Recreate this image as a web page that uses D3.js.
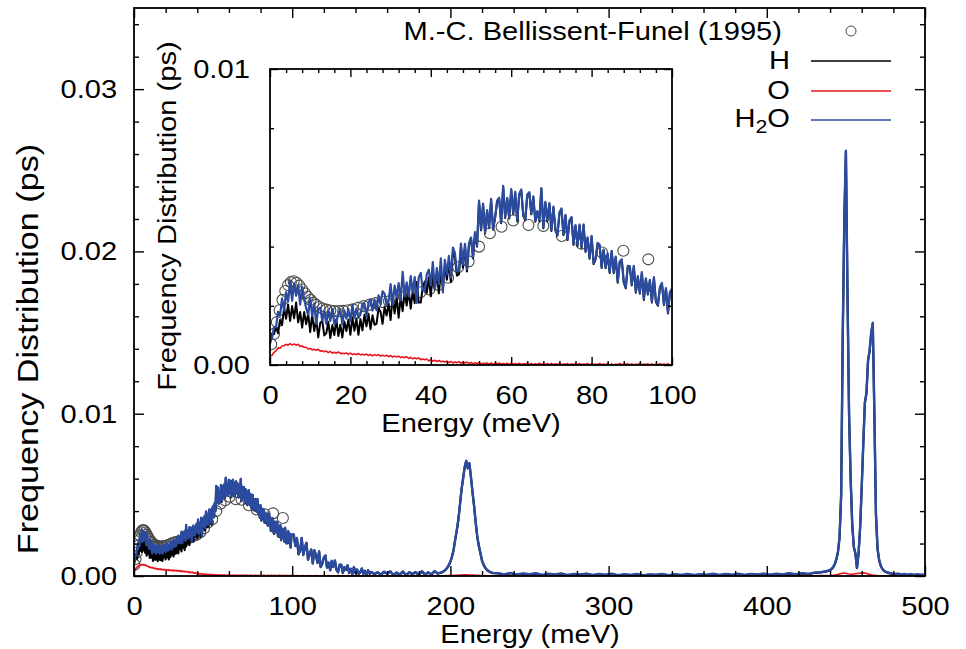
<!DOCTYPE html>
<html>
<head>
<meta charset="utf-8">
<script src="https://cdn.jsdelivr.net/npm/d3@7"></script>
<style>
  html, body { margin: 0; padding: 0; background: #fff; }
  svg { display: block; }
  text { font-family: "Liberation Sans", Arial, Helvetica, sans-serif; fill: #000; }
</style>
</head>
<body>
<svg id="chart" width="966" height="649"></svg>
<script>
// All frequency-distribution values below are in units of 1e-4 ps.
const UNIT = 1e-4;

// ---------- 0–100 meV, sampled every 0.5 meV (one row = 5 meV) ----------
const h2oLow = [
  9.2, 9.0, 12.8, 12.7, 18.0, 16.7, 22.5, 18.4, 24.6, 21.4,
  28.4, 21.7, 27.6, 23.4, 26.9, 20.4, 26.4, 22.3, 19.2, 16.9,
  22.6, 16.6, 20.8, 13.9, 18.9, 19.4, 14.9, 18.1, 13.9, 18.4,
  14.9, 18.9, 13.9, 14.4, 17.4, 18.9, 13.8, 18.4, 15.7, 18.9,
  14.8, 20.2, 15.8, 19.1, 15.9, 17.1, 20.8, 20.8, 16.3, 21.1,
  22.2, 18.4, 22.1, 18.5, 23.5, 20.5, 24.9, 24.1, 20.3, 21.5,
  27.3, 20.1, 26.8, 22.9, 27.7, 21.8, 31.5, 23.2, 27.9, 23.1,
  30.0, 24.4, 29.7, 21.0, 29.6, 31.1, 25.2, 25.1, 30.6, 32.2,
  26.9, 34.8, 25.8, 32.7, 27.3, 36.0, 24.5, 35.5, 30.6, 36.9,
  29.5, 39.7, 37.8, 31.6, 31.8, 41.0, 33.9, 40.9, 32.4, 41.2,
  43.1, 36.4, 44.9, 40.3, 55.5, 45.8, 54.5, 44.8, 52.3, 46.6,
  56.1, 46.0, 50.0, 55.5, 56.5, 48.2, 60.5, 50.0, 56.5, 49.8,
  59.4, 51.3, 58.5, 48.8, 57.8, 59.3, 50.7, 49.2, 57.6, 58.4,
  51.2, 57.0, 48.7, 52.0, 48.9, 59.8, 46.5, 55.1, 48.9, 54.7,
  45.6, 53.5, 45.8, 44.0, 51.5, 52.9, 44.2, 50.7, 42.5, 48.9,
  50.0, 40.9, 47.3, 40.5, 47.4, 39.9, 47.5, 38.5, 43.1, 36.2,
  43.6, 34.4, 36.0, 41.3, 40.6, 33.1, 39.0, 33.0, 37.6, 31.4,
  38.6, 31.3, 36.6, 28.1, 35.0, 35.7, 28.2, 26.2, 33.5, 33.4,
  27.2, 33.5, 24.7, 30.0, 24.4, 31.4, 22.3, 29.3, 24.1, 28.8,
  21.4, 29.7, 21.6, 20.3, 26.4, 27.7, 20.5, 26.0, 17.7, 24.8,
  25.7
];
const hLow = [
  7.0, 10.6, 10.4, 12.9, 10.7, 15.2, 13.5, 19.1, 15.6, 20.4,
  14.9, 19.9, 15.8, 21.1, 14.4, 17.9, 12.6, 17.9, 13.8, 17.4,
  11.1, 17.0, 11.5, 15.5, 9.3, 14.2, 15.0, 10.0, 10.7, 14.6,
  9.1, 13.5, 10.1, 15.5, 9.8, 13.6, 9.3, 14.7, 11.5, 15.3,
  10.2, 16.1, 11.6, 15.7, 10.2, 15.5, 11.7, 17.0, 13.1, 17.3,
  12.1, 16.8, 13.6, 13.9, 19.2, 18.0, 13.9, 19.6, 16.7, 20.8,
  15.2, 22.9, 17.4, 22.9, 16.0, 22.8, 18.2, 25.0, 20.1, 25.6,
  19.0, 25.0, 20.9, 28.0, 21.1, 21.1, 26.3, 28.2, 24.4, 29.6,
  23.2, 30.9, 25.5, 31.0, 24.2, 31.1, 26.6, 33.5, 28.8, 34.4,
  28.0, 38.2, 36.4, 30.2, 30.6, 39.8, 32.9, 40.0, 31.6, 40.5,
  42.8, 36.1, 44.6, 40.0, 55.2, 45.5, 54.2, 44.5, 52.0, 46.3,
  55.8, 45.7, 49.7, 55.2, 56.2, 47.9, 60.2, 49.7, 56.2, 49.5,
  59.1, 51.0, 58.2, 48.5, 57.5, 59.0, 50.4, 48.9, 57.3, 58.1,
  50.9, 56.7, 48.4, 51.7, 48.6, 59.5, 46.2, 54.8, 48.6, 54.4,
  45.3, 53.2, 45.5, 43.7, 51.2, 52.6, 43.9, 50.4, 42.2, 48.6,
  49.7, 40.6, 47.0, 40.2, 47.1, 39.6, 47.2, 38.2, 42.8, 35.9,
  43.3, 34.1, 35.7, 41.0, 40.3, 32.8, 38.7, 32.7, 37.3, 31.1,
  38.3, 31.0, 36.3, 27.8, 34.7, 35.4, 27.9, 25.9, 33.2, 33.1,
  26.9, 33.2, 24.4, 29.7, 24.1, 31.1, 22.0, 29.0, 23.8, 28.5,
  21.1, 29.4, 21.3, 20.0, 26.1, 27.4, 20.2, 25.7, 17.4, 24.5,
  25.4
];
const oLow = [
  3.0, 3.3, 4.3, 4.8, 5.8, 5.7, 6.4, 6.5, 7.0, 6.7,
  7.2, 6.8, 7.1, 6.7, 7.0, 6.3, 6.4, 6.0, 6.0, 5.4,
  5.6, 5.1, 5.3, 5.0, 5.3, 4.7, 4.8, 4.5, 4.7, 4.2,
  4.6, 4.0, 4.3, 4.0, 4.4, 3.9, 4.0, 3.8, 4.1, 3.6,
  4.0, 3.5, 3.8, 3.5, 3.9, 3.4, 3.6, 3.4, 3.7, 3.2,
  3.6, 3.1, 3.5, 3.2, 3.5, 3.0, 3.3, 3.0, 3.3, 2.8,
  3.2, 2.7, 3.0, 2.7, 3.0, 2.5, 2.7, 2.5, 2.8, 2.2,
  2.6, 2.1, 2.4, 2.1, 2.4, 1.8, 2.0, 1.8, 2.0, 1.4,
  1.8, 1.3, 1.6, 1.2, 1.5, 1.1, 1.3, 1.0, 1.3, 0.8,
  1.2, 0.7, 1.0, 0.8, 1.1, 0.6, 0.9, 0.7, 1.0, 0.5,
  0.9, 0.4, 0.8, 0.5, 0.8, 0.4, 0.6, 0.5, 0.7, 0.3,
  0.7, 0.2, 0.6, 0.3, 0.7, 0.3, 0.5, 0.3, 0.6, 0.2,
  0.6, 0.2, 0.5, 0.2, 0.6, 0.2, 0.4, 0.3, 0.6, 0.1,
  0.5, 0.1, 0.4, 0.2, 0.6, 0.2, 0.4, 0.2, 0.5, 0.1,
  0.5, 0.1, 0.4, 0.2, 0.5, 0.1, 0.3, 0.2, 0.5, 0.0,
  0.4, 0.1, 0.4, 0.1, 0.5, 0.1, 0.3, 0.2, 0.5, 0.0,
  0.4, 0.1, 0.3, 0.1, 0.5, 0.1, 0.3, 0.1, 0.4, 0.0,
  0.4, 0.0, 0.3, 0.1, 0.5, 0.1, 0.3, 0.2, 0.4, 0.0,
  0.4, 0.0, 0.3, 0.1, 0.5, 0.1, 0.3, 0.1, 0.4, 0.0,
  0.4, 0.0, 0.3, 0.1, 0.4, 0.1, 0.3, 0.1, 0.4, 0.0,
  0.3
];

// ---------- above 100 meV, in segments of different sampling ----------
// 101–150 meV, every 1 meV
const h2oTail = [
  25.6, 18.6, 23.4, 13.5, 15.8, 23.5, 13.1, 17.5, 20.5, 10.2,
  13.5, 16.4, 7.9, 15.9, 13.1, 8.2, 15.2, 5.7, 7.7, 11.5,
  12.7, 5.3, 8.3, 3.7, 9.4, 5.7, 9.6, 3.9, 2.5, 7.0,
  7.0, 2.0, 5.5, 3.9, 6.7, 2.1, 4.5, 1.1, 5.5, 2.0,
  4.1, 1.5, 2.4, 4.7, 1.5, 3.3, 0.9, 3.6, 1.5, 2.6
];
const hTail = [
  25.4, 18.4, 23.2, 13.3, 15.6, 23.3, 12.9, 17.3, 20.3, 10.0,
  13.3, 16.2, 7.7, 15.7, 12.9, 8.0, 15.0, 5.5, 7.5, 11.3,
  12.5, 5.1, 8.1, 3.5, 9.2, 5.5, 9.4, 3.7, 2.3, 6.8,
  6.8, 1.8, 5.3, 3.7, 6.5, 1.9, 4.3, 0.9, 5.3, 1.8,
  3.9, 1.3, 2.2, 4.5, 1.3, 3.1, 0.7, 3.4, 1.3, 2.4
];
const oTail = [
  0.3, 0.1, 0.3, 0.0, 0.2, 0.1, 0.3, 0.0, 0.2, 0.1,
  0.3, 0.0, 0.2, 0.1, 0.3, 0.0, 0.2, 0.1, 0.2, 0.0,
  0.2, 0.1, 0.3, 0.0, 0.2, 0.0, 0.2, 0.1, 0.3, 0.0,
  0.2, 0.1, 0.2, 0.0, 0.3, 0.1, 0.2, 0.0, 0.2, 0.1,
  0.3, 0.0, 0.2, 0.1, 0.2, 0.0, 0.3, 0.1, 0.2, 0.0
];
// 152–192 meV, every 2 meV
const h2oFar = [1.2, 2.4, 0.9, 2.7, 1.5, 2.9, 0.8, 2.2, 1.0, 2.8, 0.6, 2.4, 1.3, 2.5, 0.7, 3.0, 1.0, 2.3, 1.0, 3.1, 1.6];
const hFar   = [1.0, 2.2, 0.7, 2.5, 1.3, 2.7, 0.6, 2.0, 0.8, 2.6, 0.4, 2.2, 1.1, 2.3, 0.5, 2.8, 0.8, 2.1, 0.8, 2.9, 1.4];
const oFar   = [0.2, 0.0, 0.3, 0.1, 0.2, 0.0, 0.2, 0.1, 0.3, 0.0, 0.2, 0.1, 0.2, 0.0, 0.3, 0.1, 0.2, 0.0, 0.2, 0.1, 0.2];
// 195–227 meV, every 1 meV (bending band)
const h2oBend = [
  2.5, 3.2, 4.0, 5.2, 6.8, 9.0, 12.0, 16.0, 22.3, 28.0,
  34.6, 43.5, 53.1, 60.0, 67.0, 71.0, 66.5, 69.5, 61.0, 51.5,
  43.0, 33.0, 24.2, 18.5, 14.1, 9.5, 7.0, 5.2, 4.0, 3.2,
  2.6, 2.2, 1.9
];
const hBend = [
  2.3, 3.0, 3.8, 5.0, 6.6, 8.8, 11.8, 15.8, 22.1, 27.8,
  34.4, 43.3, 52.9, 59.8, 66.8, 70.8, 66.3, 69.3, 60.8, 51.3,
  42.8, 32.8, 24.0, 18.3, 13.9, 9.3, 6.8, 5.0, 3.8, 3.0,
  2.4, 2.0, 1.7
];
const oBend = [
  0.2, 0.1, 0.3, 0.1, 0.3, 0.2, 0.4, 0.3, 0.5, 0.4,
  0.6, 0.5, 0.7, 0.6, 0.7, 0.8, 0.6, 0.7, 0.5, 0.6,
  0.4, 0.5, 0.3, 0.4, 0.2, 0.3, 0.1, 0.3, 0.1, 0.2,
  0.0, 0.2, 0.1
];
// 230–434 meV, every 4 meV
const h2oGap = [
  1.8, 1.0, 1.9, 0.9, 1.6, 1.1, 1.7, 0.7, 1.4, 1.0,
  1.6, 0.6, 1.3, 0.9, 1.5, 0.6, 1.2, 0.8, 1.4, 0.5,
  1.1, 0.7, 1.3, 0.5, 1.0, 0.8, 1.3, 0.5, 1.1, 0.7,
  1.2, 0.6, 1.1, 0.8, 1.4, 0.6, 1.2, 0.8, 1.4, 0.7,
  1.3, 0.9, 1.5, 0.8, 1.4, 1.0, 1.7, 1.1, 1.8, 1.3,
  2.1, 2.4
];
const hGap = [
  1.6, 0.8, 1.7, 0.7, 1.4, 0.9, 1.5, 0.5, 1.2, 0.8,
  1.4, 0.4, 1.1, 0.7, 1.3, 0.4, 1.0, 0.6, 1.2, 0.3,
  0.9, 0.5, 1.1, 0.3, 0.8, 0.6, 1.1, 0.3, 0.9, 0.5,
  1.0, 0.4, 0.9, 0.6, 1.2, 0.4, 1.0, 0.6, 1.2, 0.5,
  1.1, 0.7, 1.3, 0.6, 1.2, 0.8, 1.5, 0.9, 1.6, 1.1,
  1.9, 2.2
];
const oGap = [
  0.2, 0.0, 0.1, 0.2, 0.0, 0.2, 0.1, 0.0, 0.2, 0.1,
  0.0, 0.2, 0.1, 0.0, 0.2, 0.0, 0.1, 0.2, 0.0, 0.1,
  0.2, 0.0, 0.1, 0.2, 0.0, 0.2, 0.1, 0.0, 0.2, 0.1,
  0.0, 0.2, 0.1, 0.0, 0.2, 0.0, 0.1, 0.2, 0.0, 0.1,
  0.2, 0.0, 0.1, 0.2, 0.0, 0.2, 0.1, 0.0, 0.2, 0.1,
  0.2, 0.3
];
// 438–477 meV, every 1 meV (stretching doublet)
const h2oStretch = [
  3.0, 3.4, 3.7, 4.5, 5.6, 7.5, 10.5, 15.0, 24.0, 50.0,
  148, 220, 262, 175, 100, 60, 32, 18, 14, 5.0,
  14, 30, 55, 82, 107, 113, 133, 139, 150, 156,
  100, 38, 17, 10, 6.5, 4.5, 3.4, 2.8, 2.3, 2.0
];
const hStretch = [
  2.8, 3.2, 3.5, 4.3, 5.4, 7.3, 10.3, 14.8, 23.8, 49.7,
  147.5, 219.5, 261.5, 174.5, 99.6, 59.7, 31.8, 17.8, 13.8, 4.8,
  13.8, 29.8, 54.7, 81.6, 106.6, 112.6, 132.6, 138.6, 149.5, 155.5,
  99.6, 37.8, 16.8, 9.8, 6.3, 4.3, 3.2, 2.6, 2.1, 1.8
];
const oStretch = [
  0.3, 0.2, 0.4, 0.3, 0.5, 0.6, 0.8, 1.0, 1.3, 1.5,
  1.7, 1.9, 1.6, 1.4, 1.2, 1.1, 1.0, 1.2, 1.4, 1.5,
  1.6, 1.7, 1.8, 1.9, 1.8, 1.6, 1.3, 1.0, 0.7, 0.5,
  0.4, 0.3, 0.3, 0.2, 0.2, 0.1, 0.2, 0.1, 0.1, 0.1
];
// 479–499 meV, every 2 meV
const h2oEdge = [1.6, 1.2, 1.5, 0.9, 1.3, 0.8, 1.2, 0.7, 1.1, 0.8, 1.0];
const hEdge   = [1.4, 1.0, 1.3, 0.7, 1.1, 0.6, 1.0, 0.5, 0.9, 0.6, 0.8];
const oEdge   = [0.1, 0.0, 0.1, 0.0, 0.1, 0.0, 0.1, 0.0, 0.1, 0.0, 0.1];

// Energy grids (meV) of the segments above
const energyLow     = d3.range(0, 100.25, 0.5);
const energyTail    = d3.range(101, 151, 1);
const energyFar     = d3.range(152, 193, 2);
const energyBend    = d3.range(195, 228, 1);
const energyGap     = d3.range(230, 438, 4);
const energyStretch = d3.range(438, 478, 1);
const energyEdge    = d3.range(479, 501, 2);

// Experimental points, M.-C. Bellissent-Funel (1995)
const expEnergy = [
  0.3, 1.0, 1.7, 2.4, 3.1, 3.8, 4.5, 5.2, 5.9, 6.6,
  7.3, 8.0, 8.7, 9.4, 10.1, 10.8, 11.5, 12.3, 13.1, 14.0,
  15.0, 16.0, 17.1, 18.2, 19.4, 20.6, 21.9, 23.3, 24.8, 26.3,
  27.9, 29.6, 31.4, 33.3, 35.3, 37.4, 39.6, 41.9, 44.3, 46.8,
  49.4, 52.0, 54.7, 57.6, 60.5, 64.3, 68.0, 72.6, 77.5, 82.6,
  87.9, 94.1
];
const expValue = [
  7.0, 10.5, 14.5, 18.5, 22.0, 25.0, 27.0, 28.0, 28.3, 27.8,
  26.8, 25.5, 24.2, 23.0, 22.0, 21.0, 20.3, 19.6, 19.1, 18.7,
  18.4, 18.2, 18.2, 18.3, 18.5, 18.8, 19.3, 19.9, 20.4, 20.9,
  21.3, 21.5, 22.2, 23.0, 23.8, 24.6, 25.5, 27.0, 29.5, 33.0,
  35.0, 40.0, 44.5, 46.7, 48.8, 47.3, 47.0, 43.6, 41.0, 38.0,
  38.6, 35.7
];

// Axis ticks
const mainXMajor = [0, 100, 200, 300, 400, 500];
const mainXMinor = d3.range(20, 500, 20).filter(v => v % 100 !== 0);
const mainYMajor = [0, 0.01, 0.02, 0.03];
const mainYMinor = d3.range(1, 18).filter(i => i % 5 !== 0).map(i => i * 0.002);
const insetXMajor = [0, 20, 40, 60, 80, 100];
const insetXMinor = d3.range(4, 100, 4).filter(v => v % 20 !== 0);
const insetYMajor = [0, 0.01];
const insetYMinor = [0.002, 0.004, 0.006, 0.008];

const legendLabels = ["M.-C. Bellissent-Funel (1995)", "H", "O", "H2O"];
const colors = { H: "#000000", O: "#e8161c", H2O: "#2a4b9f", exp: "#4a4a4a" };

// ---------- assemble series ----------
function assemble(parts) {
  const out = [];
  parts.forEach(([es, vs]) => {
    if (es.length !== vs.length) console.warn("length mismatch", es.length, vs.length);
    es.forEach((e, i) => { if (vs[i] !== undefined) out.push({ e, v: vs[i] * UNIT }); });
  });
  return out;
}
const seriesH2O = assemble([[energyLow, h2oLow], [energyTail, h2oTail], [energyFar, h2oFar],
                            [energyBend, h2oBend], [energyGap, h2oGap],
                            [energyStretch, h2oStretch], [energyEdge, h2oEdge]]);
const seriesH = assemble([[energyLow, hLow], [energyTail, hTail], [energyFar, hFar],
                          [energyBend, hBend], [energyGap, hGap],
                          [energyStretch, hStretch], [energyEdge, hEdge]]);
const seriesO = assemble([[energyLow, oLow], [energyTail, oTail], [energyFar, oFar],
                          [energyBend, oBend], [energyGap, oGap],
                          [energyStretch, oStretch], [energyEdge, oEdge]]);
const seriesExp = expEnergy.map((e, i) => ({ e, v: expValue[i] * UNIT }));

// ---------- drawing ----------
const SX = 1.12;      // glyph width stretch
const FS = 26;        // base font size
const svg = d3.select("#chart");

function addText(parent, x, y, str, anchor, opts = {}) {
  const rot = opts.rotate ? ` rotate(${opts.rotate})` : "";
  return parent.append("text")
    .attr("transform", `translate(${x},${y})${rot} scale(${opts.sx || SX},1)`)
    .attr("text-anchor", anchor)
    .attr("font-size", opts.size || FS)
    .text(str);
}

function drawPanel(g, cfg) {
  const { x, y, clipId, xMajor, xMinor, yMajor, yMinor, majorLen, minorLen, xPad, yPad, yFmt, lw } = cfg;
  const [x0, x1] = x.range();
  const [y1, y0] = y.range();

  g.append("rect").attr("x", x0).attr("y", y0).attr("width", x1 - x0).attr("height", y1 - y0)
    .attr("fill", "#fff");

  g.append("clipPath").attr("id", clipId).append("rect")
    .attr("x", x0).attr("y", y0 - 1).attr("width", x1 - x0).attr("height", y1 - y0 + 1);

  const plot = g.append("g").attr("clip-path", `url(#${clipId})`);

  // experimental points first, simulations on top
  plot.append("g").selectAll("circle")
    .data(seriesExp.filter(d => d.e <= x.domain()[1]))
    .join("circle")
    .attr("cx", d => x(d.e)).attr("cy", d => y(d.v)).attr("r", 5.5)
    .attr("fill", "none").attr("stroke", colors.exp).attr("stroke-width", 1.1);

  const line = d3.line().x(d => x(d.e)).y(d => y(d.v));
  const xmax = x.domain()[1];
  const cut = s => s.filter(d => d.e <= xmax + 2);
  [["H", seriesH, lw.H], ["O", seriesO, lw.O], ["H2O", seriesH2O, lw.H2O]].forEach(([k, s, w]) => {
    plot.append("path").datum(cut(s)).attr("d", line)
      .attr("fill", "none").attr("stroke", colors[k]).attr("stroke-width", w)
      .attr("stroke-linejoin", "round");
  });

  // ticks on all four sides, pointing inward
  const axes = g.append("g").attr("class", "axes");
  const mk = (axisFn, scale, vals, len, fmt, pad, tr) => {
    const a = axisFn(scale).tickValues(vals).tickSize(-len).tickPadding(pad)
      .tickFormat(fmt || (() => ""));
    const ag = axes.append("g").attr("transform", tr).call(a);
    ag.select(".domain").remove();
    ag.selectAll("line").attr("stroke", "#000").attr("stroke-width", 1.4);
    return ag;
  };
  const xb = mk(d3.axisBottom, x, xMajor, majorLen, d3.format("d"), xPad, `translate(0,${y1})`);
  mk(d3.axisBottom, x, xMinor, minorLen, null, 0, `translate(0,${y1})`);
  mk(d3.axisTop, x, xMajor, majorLen, null, 0, `translate(0,${y0})`);
  mk(d3.axisTop, x, xMinor, minorLen, null, 0, `translate(0,${y0})`);
  const yl = mk(d3.axisLeft, y, yMajor, majorLen, yFmt, yPad, `translate(${x0},0)`);
  mk(d3.axisLeft, y, yMinor, minorLen, null, 0, `translate(${x0},0)`);
  mk(d3.axisRight, y, yMajor, majorLen, null, 0, `translate(${x1},0)`);
  mk(d3.axisRight, y, yMinor, minorLen, null, 0, `translate(${x1},0)`);

  [xb, yl].forEach(ag => ag.selectAll("text")
    .attr("font-size", FS).attr("font-family", null).attr("fill", "#000")
    .attr("transform", `scale(${SX},1)`));

  g.append("rect").attr("x", x0).attr("y", y0).attr("width", x1 - x0).attr("height", y1 - y0)
    .attr("fill", "none").attr("stroke", "#000").attr("stroke-width", 1.8);
}

// main panel
const xMain = d3.scaleLinear().domain([0, 500]).range([134, 925]);
const yMain = d3.scaleLinear().domain([0, 0.035]).range([576, 8]);
const gMain = svg.append("g");
drawPanel(gMain, {
  x: xMain, y: yMain, clipId: "clip-main",
  xMajor: mainXMajor, xMinor: mainXMinor, yMajor: mainYMajor, yMinor: mainYMinor,
  majorLen: 10, minorLen: 5, xPad: 21, yPad: 15, yFmt: d3.format(".2f"),
  lw: { H: 2.2, O: 1.6, H2O: 2.4 }
});
addText(svg, 530, 643, "Energy (meV)", "middle");
addText(svg, 38, 349, "Frequency Distribution (ps)", "middle", { rotate: -90, size: 30, sx: 1.14 });

// legend
const lg = svg.append("g");
addText(lg, 782, 40, legendLabels[0], "end");
lg.append("circle").attr("cx", 851).attr("cy", 31).attr("r", 5)
  .attr("fill", "none").attr("stroke", colors.exp).attr("stroke-width", 1);
const legRows = [["H", 69, 61], ["O", 99, 91], ["H2O", 127, 120]];
legRows.forEach(([k, ty, ly]) => {
  const t = addText(lg, 790, ty, "", "end");
  if (k === "H2O") {
    t.append("tspan").text("H");
    t.append("tspan").attr("font-size", 19).attr("dy", 6).text("2");
    t.append("tspan").attr("dy", -6).text("O");
  } else {
    t.text(k);
  }
  lg.append("line").attr("x1", 811).attr("x2", 891).attr("y1", ly).attr("y2", ly)
    .attr("stroke", colors[k]).attr("stroke-width", 1.6);
});

// inset panel: low-energy detail
const xIn = d3.scaleLinear().domain([0, 100]).range([270, 672]);
const yIn = d3.scaleLinear().domain([0, 0.01]).range([365, 69]);
const gIn = svg.append("g");
drawPanel(gIn, {
  x: xIn, y: yIn, clipId: "clip-inset",
  xMajor: insetXMajor, xMinor: insetXMinor, yMajor: insetYMajor, yMinor: insetYMinor,
  majorLen: 8, minorLen: 4, xPad: 21, yPad: 18, yFmt: d3.format(".2f"),
  lw: { H: 2, O: 1.6, H2O: 2.2 }
});
addText(svg, 471, 432, "Energy (meV)", "middle");
addText(svg, 176, 216, "Frequency Distribution (ps)", "middle", { rotate: -90 });
</script>
</body>
</html>
